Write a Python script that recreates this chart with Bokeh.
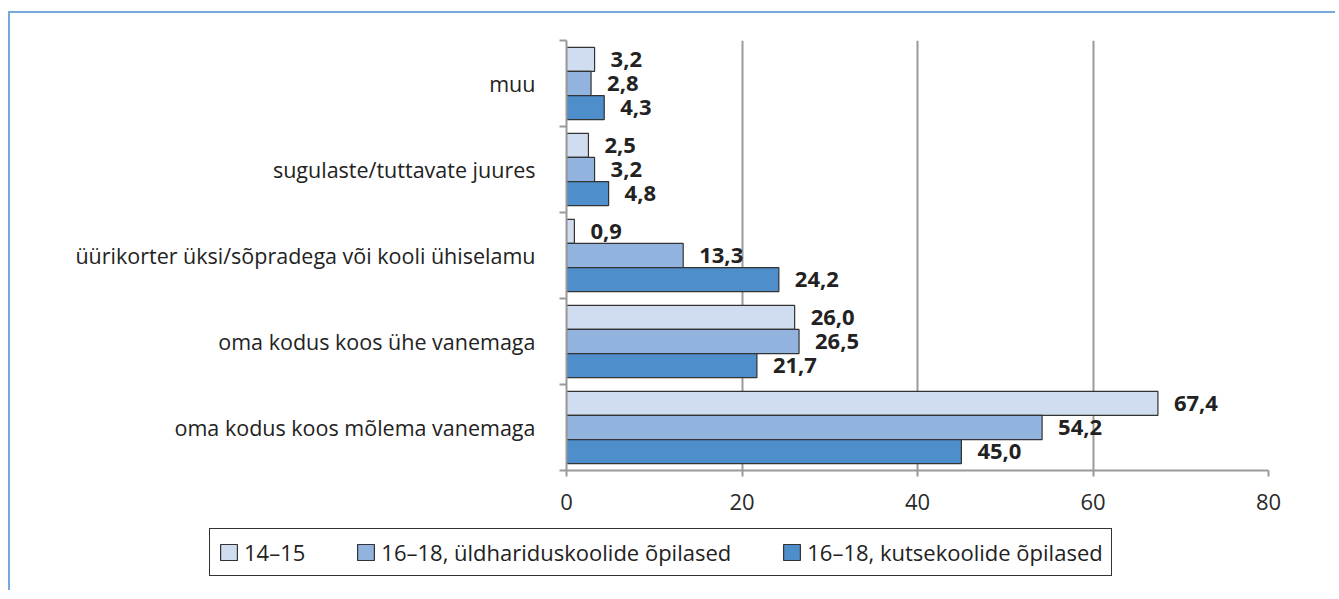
from bokeh.plotting import figure
from bokeh.layouts import column
from bokeh.models import (ColumnDataSource, Range1d, FixedTicker, LabelSet,
                          Legend, LegendItem)
from bokeh.core.properties import value
from bokeh.embed import file_html
from bokeh.resources import INLINE

# ---- data (bottom to top) ----
categories = [
    "oma kodus koos mõlema vanemaga",
    "oma kodus koos ühe vanemaga",
    "üürikorter üksi/sõpradega või kooli ühiselamu",
    "sugulaste/tuttavate juures",
    "muu",
]
series_names = ["14–15", "16–18, üldhariduskoolide õpilased", "16–18, kutsekoolide õpilased"]
vals_14_15 = [67.4, 26.0, 0.9, 2.5, 3.2]
vals_uld = [54.2, 26.5, 13.3, 3.2, 2.8]
vals_kutse = [45.0, 21.7, 24.2, 4.8, 4.3]
x_ticks = [0, 20, 40, 60, 80]

colors = ["#d0ddf0", "#91b3de", "#4e8ecb"]
offsets = [0.28, 0.0, -0.28]
bar_h = 0.28

FONT = "Open Sans"
W = 1325

p = figure(width=W, height=507, output_backend="svg", toolbar_location=None,
           x_range=Range1d(0, 80), y_range=Range1d(0, 5),
           min_border_left=556, min_border_top=27, min_border_right=67,
           min_border_bottom=50)
p.outline_line_color = None
p.background_fill_color = "white"
p.border_fill_color = "white"

sources = []
for vals, col, off in zip([vals_14_15, vals_uld, vals_kutse], colors, offsets):
    ys = [i + 0.5 + off for i in range(len(categories))]
    src = ColumnDataSource(dict(
        y=ys, x=vals, text=[f"{v:.1f}".replace(".", ",") for v in vals]))
    sources.append(src)
    p.hbar(y="y", right="x", left=0, height=bar_h, source=src,
           fill_color=col, line_color="#333333", line_width=1.2)
    p.add_layout(LabelSet(x="x", y="y", text="text", source=src, x_offset=16,
                          text_baseline="middle", text_align="left",
                          text_font=value(FONT), text_font_style="bold",
                          text_font_size="22px", text_color="#222222"))

# x axis
p.xaxis.ticker = FixedTicker(ticks=x_ticks)
p.xaxis.axis_line_color = "#9a9a9a"
p.xaxis.axis_line_width = 2
p.xaxis.major_tick_line_color = "#9a9a9a"
p.xaxis.major_tick_line_width = 2
p.xaxis.major_tick_out = 6
p.xaxis.major_tick_in = 0
p.xaxis.minor_tick_line_color = None
p.xaxis.major_label_text_font = FONT
p.xaxis.major_label_text_font_size = "22px"
p.xaxis.major_label_text_color = "#2a2a2a"
p.xaxis.major_label_standoff = 17

# y axis: labels at centres, ticks at boundaries
centers = [i + 0.5 for i in range(len(categories))]
bounds = list(range(len(categories) + 1))
p.yaxis.ticker = FixedTicker(ticks=centers, minor_ticks=bounds)
p.yaxis.major_label_overrides = {c: name for c, name in zip(centers, categories)}
p.yaxis.major_tick_line_color = None
p.yaxis.major_tick_out = 0
p.yaxis.major_tick_in = 0
p.yaxis.minor_tick_line_color = "#9a9a9a"
p.yaxis.minor_tick_line_width = 2
p.yaxis.minor_tick_out = 7
p.yaxis.minor_tick_in = 0
p.yaxis.axis_line_color = "#9a9a9a"
p.yaxis.axis_line_width = 2
p.yaxis.major_label_standoff = 24
p.yaxis.major_label_text_font = FONT
p.yaxis.major_label_text_font_size = "21.5px"
p.yaxis.major_label_text_color = "#222222"

p.xgrid.grid_line_color = "#9a9a9a"
p.xgrid.grid_line_width = 2
p.ygrid.grid_line_color = None

# ---- legend strip; same series plotted outside its visible y range ----
lg = figure(width=W, height=70, output_backend="svg", toolbar_location=None,
            x_range=Range1d(0, 80), y_range=Range1d(100, 101),
            x_axis_type=None, y_axis_type=None, min_border=0)
lg.outline_line_color = None
lg.grid.grid_line_color = None
lg.border_fill_color = "white"
lg.background_fill_color = "white"
lg_renderers = [lg.hbar(y="y", right="x", left=0, height=bar_h, source=s,
                        fill_color=c, line_color="#333333", line_width=1.2)
                for s, c in zip(sources, colors)]
legend = Legend(
    items=[LegendItem(label=n, renderers=[r]) for n, r in zip(series_names, lg_renderers)],
    orientation="horizontal", location=(199, 14),
    glyph_width=21, glyph_height=20, label_standoff=5, spacing=50, padding=8,
    label_text_font=FONT, label_text_font_size="22px", label_text_color="#222222",
    border_line_color="#333333", border_line_width=1.5, border_line_alpha=1.0,
    background_fill_color="white", background_fill_alpha=1.0,
)
lg.add_layout(legend, "center")

for fig in (p, lg):
    if "frame_align" in fig.properties():
        fig.frame_align = False

layout = column(p, lg, spacing=0,
                styles={"border-top": "2px solid #78a7dc",
                        "border-left": "2px solid #78a7dc",
                        "margin-top": "11px", "margin-left": "8px"})

open("out.html", "w").write(file_html(layout, INLINE))
